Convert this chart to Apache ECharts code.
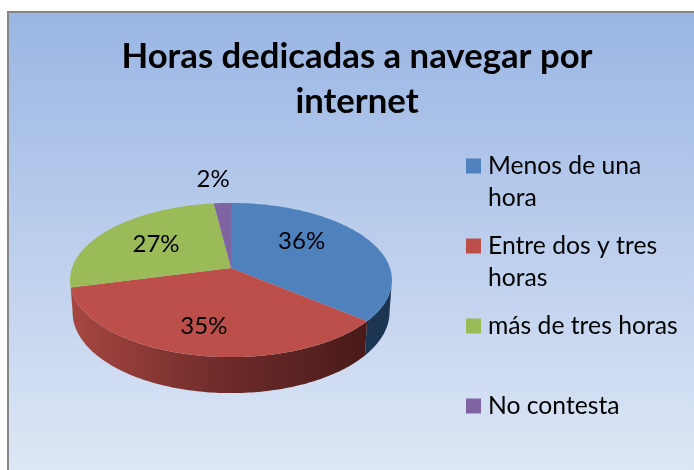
<!DOCTYPE html>
<html>
<head>
<meta charset="utf-8">
<style>
  html, body { margin: 0; padding: 0; background: #fff; }
  #chart { width: 694px; height: 470px; }
</style>
</head>
<body>
<div id="chart"></div>
<script src="https://cdn.jsdelivr.net/npm/echarts@6/dist/echarts.min.js"></script>
<script>
const titleText = 'Horas dedicadas a navegar por\ninternet'
const categories = ['Menos de una hora', 'Entre dos y tres horas', 'más de tres horas', 'No contesta']
const legendLabels = ['Menos de una\nhora', 'Entre dos y tres\nhoras', 'más de tres horas\n ', 'No contesta\n ']
const percents = [36, 35, 27, 2]
const colors = ['#4f81bd', '#bd4f4b', '#9bbb59', '#8064a2']

// the pie is a tilted disc: circle points go through a small perspective map
const cx = 231
const apexY = 268
const persp = 0.156
const backPull = -33.4
const radiusX = 159
const wallFrom = 99
const wallTo = 261

// label place inside the disc, per slice
const labelRadius = [0.5, 0.7, 0.6, 1.45]
const labelShift = [[1, -11], [0, 1], [0, 0], [-6, 0]]

function project(deg, r) {
  const a = deg * Math.PI / 180
  const u = Math.sin(a) * r
  const v = Math.cos(a) * r
  const d = 1 + persp * v
  return [cx + radiusX * u / d, (apexY + backPull * v) / d]
}

function lower(deg) {
  const p = project(deg, 1)
  const v = Math.cos(deg * Math.PI / 180)
  return [cx + (p[0] - cx) * 0.985, p[1] + 31 - 5 * v]
}

function wallFill(i) {
  if (i === 0) return '#1c3552'
  if (i === 2) return '#7a9446'
  return new echarts.graphic.LinearGradient(72, 0, 368, 0, [
    { offset: 0, color: '#a64641' },
    { offset: 0.5, color: '#6f2c2a' },
    { offset: 1, color: '#481a19' }
  ], true)
}

function renderSlice(params, api) {
  const i = params.seriesIndex
  const start = api.value(0) * 3.6
  const end = start + api.value(1) * 3.6
  const children = []

  const from = Math.max(start, wallFrom)
  const to = Math.min(end, wallTo)
  if (to > from) {
    const upperEdge = []
    const lowerEdge = []
    for (let d = from; d <= to; d += 1) {
      upperEdge.push(project(d, 1))
      lowerEdge.unshift(lower(d))
    }
    upperEdge.push(project(to, 1))
    lowerEdge.unshift(lower(to))
    children.push({
      type: 'polygon',
      shape: { points: upperEdge.concat(lowerEdge) },
      style: { fill: wallFill(i) }
    })
  }

  const top = [[cx, apexY]]
  for (let d = start; d < end; d += 1) top.push(project(d, 1))
  top.push(project(end, 1))
  children.push({
    type: 'polygon',
    shape: { points: top },
    style: { fill: colors[i] }
  })

  const at = project((start + end) / 2, labelRadius[i])
  children.push({
    type: 'text',
    z2: 10,
    style: {
      text: api.value(1) + '%',
      x: at[0] + labelShift[i][0],
      y: at[1] + labelShift[i][1],
      align: 'center',
      verticalAlign: 'middle',
      fill: '#000',
      font: '24px Lato'
    }
  })
  return { type: 'group', children: children }
}

let running = 0
const series = categories.map((name, i) => {
  const item = [running, percents[i]]
  running += percents[i]
  return {
    type: 'custom',
    name: name,
    coordinateSystem: 'none',
    renderItem: renderSlice,
    itemStyle: { color: colors[i] },
    data: [item],
    silent: true
  }
})

const chart = echarts.init(document.getElementById('chart'), null, { renderer: 'canvas' })
chart.setOption({
  animation: false,
  backgroundColor: '#fff',
  title: {
    text: titleText,
    left: 352,
    top: 29,
    textAlign: 'center',
    textStyle: {
      fontFamily: 'Lato',
      fontWeight: 'bold',
      fontSize: 34.7,
      lineHeight: 45,
      color: '#000'
    }
  },
  legend: {
    orient: 'vertical',
    left: 461,
    top: 145,
    itemWidth: 17,
    itemHeight: 47,
    itemGap: 16,
    icon: 'path://M0 0H15V15H0Z M17 47L17 47',
    selectedMode: false,
    data: categories,
    formatter: name => legendLabels[categories.indexOf(name)],
    textStyle: {
      fontFamily: 'Lato',
      fontSize: 24.7,
      lineHeight: 32,
      color: '#000'
    }
  },
  graphic: [{
    type: 'rect',
    z: -10,
    silent: true,
    shape: { x: 8, y: 12, width: 720, height: 490 },
    style: {
      stroke: '#868686',
      lineWidth: 2,
      fill: new echarts.graphic.LinearGradient(0, 13, 0, 470, [
        { offset: 0, color: '#9ab6e4' },
        { offset: 1, color: '#dde6f5' }
      ], true)
    }
  }],
  series: series
})
</script>
</body>
</html>
